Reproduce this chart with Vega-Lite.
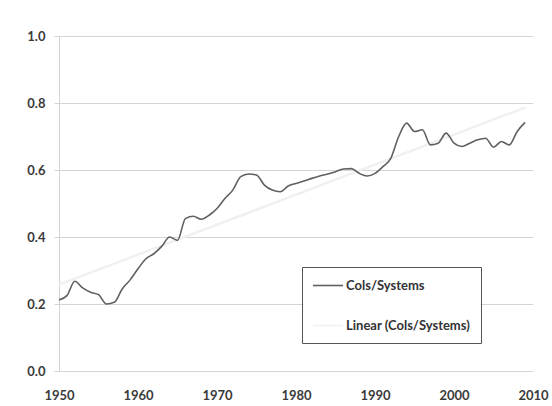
{
  "$schema": "https://vega.github.io/schema/vega-lite/v6.json",
  "width": 474,
  "height": 335,
  "autosize": {"type": "none"},
  "padding": {"left": 59, "top": 36, "right": 19, "bottom": 35},
  "background": "white",
  "config": {
    "view": {"stroke": null},
    "font": "Lato"
  },
  "data": {
    "values": [
      {"year": 1950, "value": 0.212}, {"year": 1951, "value": 0.225}, {"year": 1952, "value": 0.268},
      {"year": 1953, "value": 0.248}, {"year": 1954, "value": 0.235}, {"year": 1955, "value": 0.228},
      {"year": 1956, "value": 0.200}, {"year": 1957, "value": 0.205}, {"year": 1958, "value": 0.245},
      {"year": 1959, "value": 0.272}, {"year": 1960, "value": 0.305}, {"year": 1961, "value": 0.335},
      {"year": 1962, "value": 0.350}, {"year": 1963, "value": 0.372}, {"year": 1964, "value": 0.400},
      {"year": 1965, "value": 0.390}, {"year": 1966, "value": 0.455}, {"year": 1967, "value": 0.462},
      {"year": 1968, "value": 0.453}, {"year": 1969, "value": 0.465}, {"year": 1970, "value": 0.485},
      {"year": 1971, "value": 0.515}, {"year": 1972, "value": 0.540}, {"year": 1973, "value": 0.580},
      {"year": 1974, "value": 0.588}, {"year": 1975, "value": 0.585}, {"year": 1976, "value": 0.555},
      {"year": 1977, "value": 0.540}, {"year": 1978, "value": 0.535}, {"year": 1979, "value": 0.552},
      {"year": 1980, "value": 0.560}, {"year": 1981, "value": 0.567}, {"year": 1982, "value": 0.575},
      {"year": 1983, "value": 0.582}, {"year": 1984, "value": 0.588}, {"year": 1985, "value": 0.595},
      {"year": 1986, "value": 0.603}, {"year": 1987, "value": 0.604}, {"year": 1988, "value": 0.590},
      {"year": 1989, "value": 0.582}, {"year": 1990, "value": 0.590}, {"year": 1991, "value": 0.610},
      {"year": 1992, "value": 0.635}, {"year": 1993, "value": 0.700}, {"year": 1994, "value": 0.740},
      {"year": 1995, "value": 0.715}, {"year": 1996, "value": 0.720}, {"year": 1997, "value": 0.675},
      {"year": 1998, "value": 0.680}, {"year": 1999, "value": 0.710}, {"year": 2000, "value": 0.680},
      {"year": 2001, "value": 0.670}, {"year": 2002, "value": 0.680}, {"year": 2003, "value": 0.690},
      {"year": 2004, "value": 0.695}, {"year": 2005, "value": 0.668}, {"year": 2006, "value": 0.685},
      {"year": 2007, "value": 0.675}, {"year": 2008, "value": 0.715}, {"year": 2009, "value": 0.742}
    ]
  },
  "encoding": {
    "x": {
      "field": "year", "type": "quantitative",
      "scale": {"domain": [1950, 2010], "nice": false, "zero": false},
      "axis": {
        "title": null, "values": [1950, 1960, 1970, 1980, 1990, 2000, 2010], "format": "d",
        "domain": false, "ticks": false, "grid": false, "labelPadding": 18,
        "labelFont": "Lato", "labelFontWeight": "bold", "labelFontSize": 13, "labelColor": "#3a3a3a",
        "labelFlush": false
      }
    },
    "y": {
      "field": "value", "type": "quantitative",
      "scale": {"domain": [0, 1], "nice": false},
      "axis": {
        "title": null, "values": [0, 0.2, 0.4, 0.6, 0.8, 1.0], "format": ".1f",
        "domain": true, "domainColor": "#d4d4d4", "ticks": true, "tickSize": 5, "tickColor": "#d4d4d4",
        "grid": true, "gridColor": "#d4d4d4", "labelPadding": 9,
        "labelFont": "Lato", "labelFontWeight": "bold", "labelFontSize": 13, "labelColor": "#3a3a3a"
      }
    }
  },
  "layer": [
    {
      "transform": [{"regression": "value", "on": "year", "method": "linear", "extent": [1950, 2009]}],
      "mark": {"type": "line", "strokeWidth": 2.5},
      "encoding": {"color": {"datum": "Linear (Cols/Systems)"}}
    },
    {
      "mark": {"type": "line", "strokeWidth": 1.6, "interpolate": "monotone"},
      "encoding": {
        "color": {
          "datum": "Cols/Systems",
          "scale": {"domain": ["Cols/Systems", "Linear (Cols/Systems)"], "range": ["#606060", "#f0f0f0"]},
          "legend": {
            "title": null, "orient": "none", "legendX": 243, "legendY": 231,
            "strokeColor": "#555555", "padding": 10, "rowPadding": 24,
            "symbolType": "M-1,0H3", "symbolSize": 225, "symbolStrokeWidth": 1.6,
            "labelFont": "Lato", "labelFontWeight": "bold", "labelFontSize": 13, "labelColor": "#333333",
            "labelOffset": 17, "labelLimit": 300, "fillColor": "white"
          }
        }
      }
    }
  ]
}
